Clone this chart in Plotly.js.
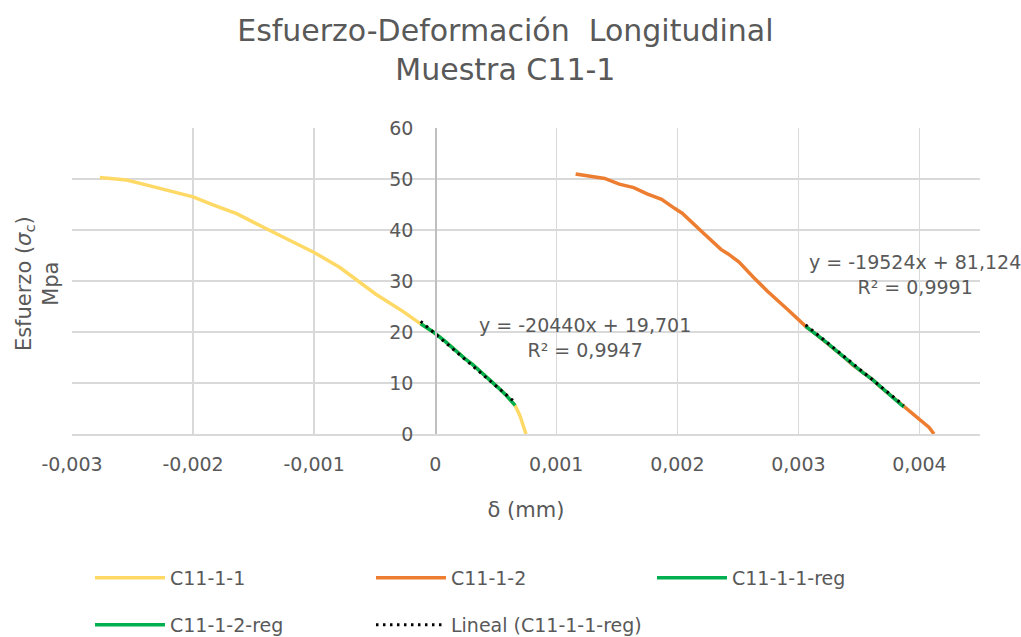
<!DOCTYPE html>
<html>
<head>
<meta charset="utf-8">
<script src="https://cdn.plot.ly/plotly-3.0.1.min.js"></script>
<style>html,body{margin:0;padding:0;background:#fff;}#chart{width:1021px;height:637px;}</style>
</head>
<body>
<div id="chart"></div>
<script>
// C11-1-1 full curve
var c1x = [-0.00277, -0.00255, -0.00238, -0.00216, -0.00200, -0.00183, -0.00164, -0.00139, -0.00117, -0.00100, -0.00079, -0.00062, -0.00049, -0.00035, -0.00027, -0.00012, -0.00001, 0.00008, 0.00017, 0.00025, 0.00031, 0.00040, 0.00046, 0.00052, 0.00059, 0.00064, 0.00066, 0.00070, 0.00072, 0.00075];
var c1y = [50.3, 49.8, 48.8, 47.5, 46.5, 44.9, 43.2, 40.2, 37.6, 35.6, 32.7, 29.7, 27.4, 25.3, 24.1, 21.6, 19.9, 18.2, 16.3, 14.7, 13.6, 11.7, 10.5, 9.1, 7.5, 6.3, 5.6, 3.6, 2.3, 0];
// C11-1-2 full curve
var c2x = [0.00116, 0.00140, 0.00152, 0.00164, 0.00175, 0.00187, 0.00198, 0.00204, 0.00221, 0.00236, 0.00242, 0.00251, 0.00263, 0.00274, 0.00292, 0.00306, 0.00315, 0.00324, 0.00331, 0.00338, 0.00345, 0.00353, 0.00361, 0.00368, 0.00377, 0.00387, 0.00397, 0.00403, 0.00408, 0.00412];
var c2y = [51.0, 50.1, 49.0, 48.3, 47.1, 46.0, 44.2, 43.3, 39.5, 36.2, 35.3, 33.7, 30.7, 28.1, 24.2, 21.1, 19.5, 17.8, 16.4, 15.0, 13.5, 12.1, 10.7, 9.2, 7.4, 5.3, 3.3, 2.3, 1.3, 0];
// C11-1-1-reg
var r1x = [-0.00012, -0.00001, 0.00008, 0.00017, 0.00025, 0.00031, 0.00040, 0.00046, 0.00052, 0.00059, 0.00064, 0.00066];
var r1y = [21.6, 19.9, 18.2, 16.3, 14.7, 13.6, 11.7, 10.5, 9.1, 7.5, 6.3, 5.6];
// C11-1-2-reg
var r2x = [0.00306, 0.00315, 0.00324, 0.00331, 0.00338, 0.00345, 0.00353, 0.00361, 0.00368, 0.00377, 0.00387];
var r2y = [21.1, 19.5, 17.8, 16.4, 15.0, 13.5, 12.1, 10.7, 9.2, 7.4, 5.3];
// Linear trendlines (endpoints)
var t1x = [-0.00012, 0.00066];
var t1y = [22.1, 6.2];
var t2x = [0.00306, 0.00387];
var t2y = [21.4, 5.6];

var xTickVals = [-0.003, -0.002, -0.001, 0, 0.001, 0.002, 0.003, 0.004];
var xTickText = ["-0,003", "-0,002", "-0,001", "0", "0,001", "0,002", "0,003", "0,004"];
var yTickVals = [0, 10, 20, 30, 40, 50, 60];

var eq1 = "y = -20440x + 19,701<br>R² = 0,9947";
var eq2 = "y = -19524x + 81,124<br>R² = 0,9991";

var FONT = "DejaVu Sans";
var GREY = "#595959";

var traces = [
  {x: c1x, y: c1y, name: "C11-1-1", mode: "lines", line: {color: "#FFD966", width: 3.5}, legend: "legend"},
  {x: c2x, y: c2y, name: "C11-1-2", mode: "lines", line: {color: "#ED7D31", width: 3.5}, legend: "legend"},
  {x: r1x, y: r1y, name: "C11-1-1-reg", mode: "lines", line: {color: "#00B050", width: 3.5}, legend: "legend"},
  {x: r2x, y: r2y, name: "C11-1-2-reg", mode: "lines", line: {color: "#00B050", width: 3.5}, legend: "legend2"},
  {x: t1x, y: t1y, name: "Lineal (C11-1-1-reg)", mode: "lines", line: {color: "#000000", width: 3, dash: "2.5px,4.5px"}, legend: "legend2"},
  {x: t2x, y: t2y, name: "Lineal (C11-1-2-reg)", mode: "lines", line: {color: "#000000", width: 3, dash: "2.5px,4.5px"}, showlegend: false}
];

var layout = {
  width: 1021, height: 637,
  margin: {l: 72, r: 41, t: 128, b: 203, autoexpand: false},
  paper_bgcolor: "#ffffff", plot_bgcolor: "#ffffff",
  separators: ",.",
  font: {family: FONT, color: GREY, size: 19},
  title: {
    text: "Esfuerzo-Deformación  Longitudinal<br>Muestra C11-1",
    font: {family: FONT, size: 30, color: GREY},
    x: 0.495, xanchor: "center", y: 0.935, yanchor: "top", yref: "container"
  },
  xaxis: {
    range: [-0.003, 0.0045],
    tickvals: xTickVals, ticktext: xTickText,
    showgrid: true, gridcolor: "#D9D9D9", gridwidth: 1.3,
    zeroline: false,
    showline: true, linecolor: "#D9D9D9", linewidth: 2,
    ticks: "", ticklabelstandoff: 12,
    tickfont: {family: FONT, size: 19, color: GREY},
    title: {text: "δ (mm)", font: {family: FONT, size: 21, color: GREY}, standoff: 29},
    fixedrange: true
  },
  yaxis: {
    range: [0, 60],
    tickvals: yTickVals,
    anchor: "free", position: 0.4,
    showgrid: true, gridcolor: "#D9D9D9", gridwidth: 1.3,
    zeroline: false,
    showline: true, linecolor: "#BFBFBF", linewidth: 1.5,
    ticks: "", ticklabelstandoff: 18,
    tickfont: {family: FONT, size: 19, color: GREY},
    fixedrange: true
  },
  legend: {
    orientation: "h", x: 0.0198, xanchor: "left", y: -0.408, yanchor: "top",
    entrywidth: 196, entrywidthmode: "pixels", itemwidth: 70,
    font: {family: FONT, size: 19, color: GREY}, bgcolor: "rgba(0,0,0,0)"
  },
  legend2: {
    orientation: "h", x: 0.0198, xanchor: "left", y: -0.562, yanchor: "top",
    entrywidth: 196, entrywidthmode: "pixels", itemwidth: 70,
    font: {family: FONT, size: 19, color: GREY}, bgcolor: "rgba(0,0,0,0)"
  },
  annotations: [
    {text: "Esfuerzo (<i>σ</i><sub>c</sub>)<br>Mpa", xref: "paper", yref: "paper", x: -0.0385, y: 0.49,
     xanchor: "center", yanchor: "middle", textangle: -90, showarrow: false,
     font: {family: FONT, size: 21, color: GREY}},
    {text: eq1, xref: "x", yref: "y", x: 0.00124, y: 18.9, xanchor: "center", yanchor: "middle",
     showarrow: false, align: "center", font: {family: FONT, size: 19, color: GREY}},
    {text: eq2, xref: "x", yref: "y", x: 0.00396, y: 31.2, xanchor: "center", yanchor: "middle",
     showarrow: false, align: "center", font: {family: FONT, size: 19, color: GREY}}
  ],
  showlegend: true
};

Plotly.newPlot("chart", traces, layout, {displayModeBar: false, staticPlot: true});
</script>
</body>
</html>
